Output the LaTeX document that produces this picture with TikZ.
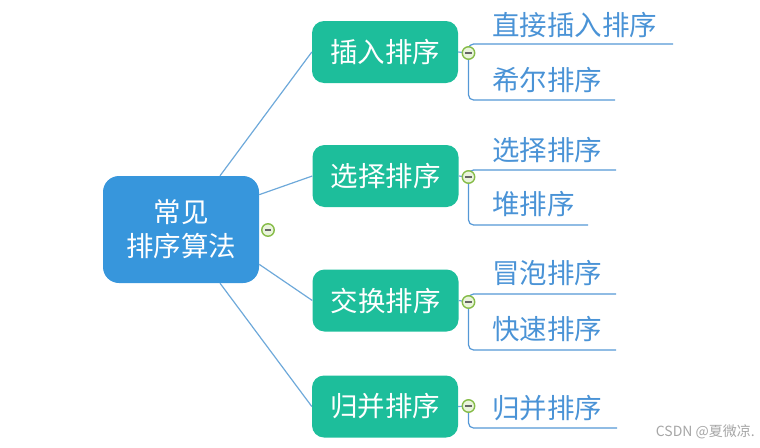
\documentclass[tikz,border=0pt]{standalone}
\usepackage{fontspec}
\setmainfont{Noto Sans CJK SC}
\newfontfamily\cjk{Noto Sans CJK SC}
\definecolor{rootblue}{HTML}{3796DC}
\definecolor{topicgreen}{HTML}{1DBE9B}
\definecolor{linkblue}{HTML}{6EA9DA}
\definecolor{subline}{HTML}{5598D6}
\definecolor{subtext}{HTML}{4A93D6}
\definecolor{knobfill}{HTML}{EAF4DC}
\definecolor{knobdraw}{HTML}{86BC48}
\tikzset{
  rootbox/.style={fill=rootblue, draw=none, rounded corners=16pt, minimum width=156pt, minimum height=107pt,
    text=white, align=center, font=\cjk\fontsize{27.5}{34}\selectfont, inner sep=0pt},
  topicbox/.style={fill=topicgreen, draw=none, rounded corners=12pt, minimum width=146pt, minimum height=62pt,
    text=white, font=\cjk\fontsize{27.5}{30}\selectfont, inner sep=0pt},
  subitem/.style={anchor=west, text=subtext, font=\cjk\fontsize{27.5}{30}\selectfont, inner sep=0pt},
  knob/.style={circle, fill=knobfill, draw=knobdraw, line width=1.4pt, minimum size=12.5pt, inner sep=0pt,
    path picture={\draw[line width=1.8pt, black!60] ([xshift=-3.2pt]path picture bounding box.center) -- ([xshift=3.2pt]path picture bounding box.center);}},
  link/.style={draw=linkblue, line width=1.2pt},
  subwire/.style={draw=subline, line width=1.2pt, rounded corners=5pt},
}
\begin{document}
\begin{tikzpicture}[x=1pt,y=-1pt]
\useasboundingbox (0,0) rectangle (760,447);
% root
\node[rootbox] (c) at (181,229.5) {常见\\排序算法};
% topics
\node[topicbox] (g1) at (385,52) {插入排序};
\node[topicbox] (g2) at (385.5,176) {选择排序};
\node[topicbox] (g3) at (385.5,300.5) {交换排序};
\node[topicbox] (g4) at (385,406.5) {归并排序};
% links root -> topics
\draw[link] (c.54) -- (g1.west);
\draw[link] (c.24) -- (g2.west);
\draw[link] (c.-24) -- (g3.west);
\draw[link] (c.-54) -- (g4.west);
% sub items
\node[subitem] (s1a) at (492,25) {直接插入排序};
\node[subitem] (s1b) at (492,80.5) {希尔排序};
\node[subitem] (s2a) at (492,150) {选择排序};
\node[subitem] (s2b) at (492,204.5) {堆排序};
\node[subitem] (s3a) at (492,273.5) {冒泡排序};
\node[subitem] (s3b) at (492,329) {快速排序};
\node[subitem] (s4a) at (492,408) {归并排序};
% underline end points
\coordinate (e1a) at (673,44);
\coordinate (e1b) at (615,100);
\coordinate (e2a) at (616,170);
\coordinate (e2b) at (588,225);
\coordinate (e3a) at (616,294);
\coordinate (e3b) at (616,350);
\coordinate (e4a) at (617,428);
% knob anchors
\coordinate (k1) at (468.5,53);
\coordinate (k2) at (468.5,177);
\coordinate (k3) at (468.5,302);
\coordinate (k4) at (468.5,406);
% wires
\draw[subwire] (k1) |- (e1a);
\draw[subwire] (k1) |- (e1b);
\draw[subwire] (k2) |- (e2a);
\draw[subwire] (k2) |- (e2b);
\draw[subwire] (k3) |- (e3a);
\draw[subwire] (k3) |- (e3b);
\draw[subwire] (k4) |- (e4a);
\draw[link] (g1.east) -- (k1);
\draw[link] (g2.east) -- (k2);
\draw[link] (g3.east) -- (k3);
\draw[link] (g4.east) -- (k4);
% knobs
\node[knob] (n1) at (k1) {};
\node[knob] (n2) at (k2) {};
\node[knob] (n3) at (k3) {};
\node[knob] (n4) at (k4) {};
\node[knob] (n0) at (268,230) {};
% watermark
\node[anchor=east, text=black!35, font=\cjk\fontsize{14}{16}\selectfont, inner sep=0pt] (wm) at (755,432) {CSDN @夏微凉.};
\end{tikzpicture}
\end{document}
